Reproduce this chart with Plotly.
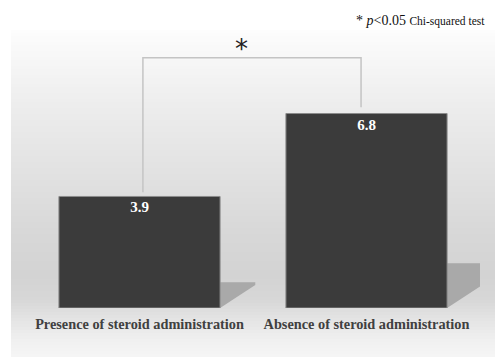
import plotly.graph_objects as go

categories = ["Presence of steroid administration", "Absence of steroid administration"]
values = [3.9, 6.8]
sig_label = "*"
note_text = "* <i>p</i>&lt;0.05 <span style='font-size:11.5px'>Chi-squared test</span>"

W, H = 495, 358
ML, MR, MT, MB = 26, 15, 22, 50
BARGAP = 0.29
YMAX = 10.0

fig = go.Figure()
fig.add_trace(go.Bar(
    x=list(range(len(categories))), y=values,
    marker=dict(color="#3b3b3b", line=dict(color="#8c8c8c", width=1)),
    texttemplate="<b>%{y}</b>", textposition="inside", insidetextanchor="end",
    textfont=dict(family="Liberation Serif", size=15, color="white"),
    width=1 - BARGAP, hoverinfo="skip",
))

shapes = []
# background vertical gradient panel (style)
plot_w = W - ML - MR
plot_h = H - MT - MB
stops = [(30, 253), (100, 238), (170, 226), (230, 216), (275, 211), (300, 215),
         (320, 228), (340, 240), (357, 246)]
def gray_at(py):
    for (y0, g0), (y1, g1) in zip(stops, stops[1:]):
        if y0 <= py <= y1:
            t = (py - y0) / (y1 - y0)
            return g0 + (g1 - g0) * t
    return stops[-1][1]
def px_to_paper_y(py):
    return (H - MB - py) / plot_h
def px_to_paper_x(px):
    return (px - ML) / plot_w
step = 3
py = 30
while py < 357:
    g = int(round(gray_at(py + step / 2)))
    shapes.append(dict(type="rect", xref="paper", yref="paper", layer="below",
                       x0=px_to_paper_x(11), x1=px_to_paper_x(495),
                       y0=px_to_paper_y(min(py + step, 357)), y1=px_to_paper_y(py),
                       fillcolor=f"rgb({g},{g},{g})", line=dict(width=0)))
    py += step

# bar shadows
half = (1 - BARGAP) / 2
for i, v in enumerate(values):
    xr = i + half
    top = v * 0.23
    path = f"M {xr} 0 L {xr} {top} L {xr + 0.155} {top} L {xr + 0.155} 0.8 Z"
    shapes.append(dict(type="path", xref="x", yref="y", path=path, layer="below",
                       fillcolor="#a9a9a9", line=dict(width=0)))

# significance bracket
bx0, bx1 = 0 + 0.015, 1 - 0.024
btop = 8.75
shapes.append(dict(type="path", xref="x", yref="y",
                   path=f"M {bx0} {values[0] + 0.15} L {bx0} {btop} L {bx1} {btop} L {bx1} {values[1] + 0.22}",
                   line=dict(color="#c4c4c4", width=1.5)))

fig.update_layout(
    width=W, height=H,
    margin=dict(l=ML, r=MR, t=MT, b=MB),
    paper_bgcolor="white", plot_bgcolor="rgba(0,0,0,0)",
    showlegend=False, bargap=BARGAP,
    shapes=shapes,
    xaxis=dict(range=[-0.5, 1.5], tickmode="array", tickvals=list(range(len(categories))),
               ticktext=[f"<b>{c}</b>" for c in categories],
               tickfont=dict(family="Liberation Serif", size=14.3, color="#404040"),
               ticklabelstandoff=6,
               showgrid=False, zeroline=False, showline=False, ticks=""),
    yaxis=dict(range=[0, YMAX], visible=False),
    annotations=[
        dict(x=0.45, y=9.05, xref="x", yref="y", text=sig_label, showarrow=False,
             font=dict(family="DejaVu Sans", size=26, color="#222222"),
             xanchor="center", yanchor="middle"),
        dict(x=px_to_paper_x(487), y=px_to_paper_y(21), xref="paper", yref="paper",
             text=note_text, showarrow=False, xanchor="right", yanchor="middle",
             font=dict(family="Liberation Serif", size=14, color="#111111")),
    ],
)

fig.write_html("out.html", config={"displayModeBar": False},
               post_script="document.body.style.margin='0';document.body.style.overflow='hidden';")
